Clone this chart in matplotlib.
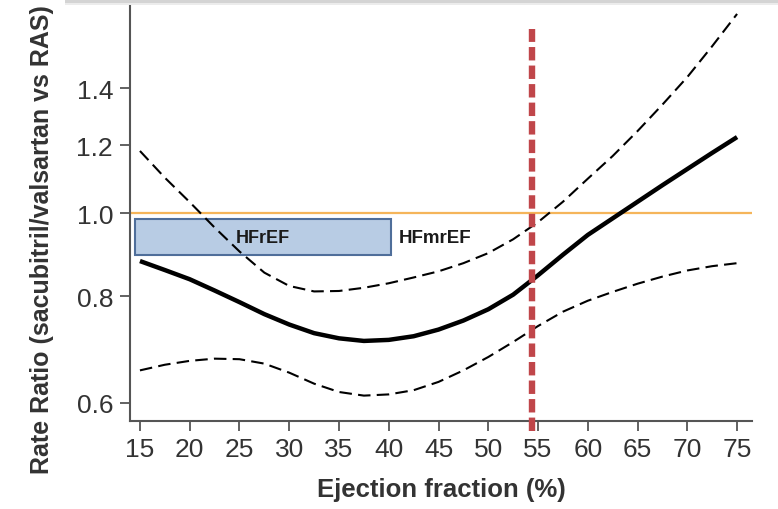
import matplotlib.pyplot as plt
from matplotlib.patches import Rectangle
import numpy as np

plt.rcParams["font.family"] = ["Liberation Sans", "DejaVu Sans"]

# ejection fraction (%) and rate ratio curves
ef = [15, 17.5, 20, 22.5, 25, 27.5, 30, 32.5, 35, 37.5, 40, 42.5, 45, 47.5,
      50, 52.5, 55, 57.5, 60, 62.5, 65, 67.5, 70, 72.5, 75]
rr_mid = [0.879, 0.858, 0.837, 0.812, 0.787, 0.762, 0.741, 0.724, 0.714, 0.709,
          0.711, 0.718, 0.731, 0.749, 0.772, 0.803, 0.846, 0.894, 0.943, 0.986,
          1.031, 1.078, 1.126, 1.176, 1.227]
rr_upper = [1.182, 1.100, 1.030, 0.962, 0.902, 0.852, 0.822, 0.810, 0.811, 0.818,
            0.828, 0.841, 0.855, 0.874, 0.898, 0.932, 0.976, 1.031, 1.097, 1.166,
            1.247, 1.339, 1.442, 1.567, 1.709]
rr_lower = [0.655, 0.665, 0.672, 0.676, 0.675, 0.667, 0.651, 0.632, 0.618, 0.612,
            0.614, 0.621, 0.635, 0.655, 0.679, 0.707, 0.738, 0.767, 0.790, 0.809,
            0.827, 0.843, 0.857, 0.867, 0.874]

xticks = [15, 20, 25, 30, 35, 40, 45, 50, 55, 60, 65, 70, 75]
yticks = [0.6, 0.8, 1.0, 1.2, 1.4]
cutoff = 54.4
hfref_span = (14.5, 40.2)
hfref_rr = (0.893, 0.984)

fig = plt.figure(figsize=(7.78, 5.10), dpi=100)
ax = fig.add_axes([130 / 778, 1 - 422 / 510, 622 / 778, 418 / 510])

ax.set_yscale("log")
ax.set_xlim(14.0, 76.5)
ax.set_ylim(0.5716, 1.76)

ax.axhline(1.0, color="#F5B55A", lw=1.6, zorder=2)

box = Rectangle((hfref_span[0], hfref_rr[0]), hfref_span[1] - hfref_span[0],
                hfref_rr[1] - hfref_rr[0], facecolor="#B8CCE4",
                edgecolor="#4F6E9A", lw=1.5, zorder=3)
ax.add_patch(box)
mid_rr = np.sqrt(hfref_rr[0] * hfref_rr[1])
ax.text(sum(hfref_span) / 2, mid_rr, "HFrEF", ha="center", va="center",
        fontsize=13, fontweight="bold", color="#1a1a1a", zorder=4)
ax.text(41.0, mid_rr, "HFmrEF", ha="left", va="center", fontsize=13.5,
        fontweight="bold", color="#1a1a1a", zorder=4)

ax.plot(ef, rr_mid, color="black", lw=3.2, zorder=5, solid_capstyle="butt")
for band in (rr_upper, rr_lower):
    (ln,) = ax.plot(ef, band, color="black", lw=1.5, zorder=5)
    ln.set_dashes((6, 3))

(red,) = ax.plot([cutoff, cutoff], [0.556, 1.64], color="#C0464A", lw=4.6,
                 zorder=6, clip_on=False)
red.set_dashes((2.1, 0.8))

for side in ("top", "right"):
    ax.spines[side].set_visible(False)
for side in ("left", "bottom"):
    ax.spines[side].set_color("#555555")
    ax.spines[side].set_linewidth(1.5)

ax.set_xticks(xticks)
ax.set_xticklabels([str(t) for t in xticks])
ax.set_yticks(yticks)
ax.set_yticklabels([f"{t:.1f}" for t in yticks])
ax.minorticks_off()
ax.tick_params(direction="out", length=7.2, width=1.3, color="#555555",
               labelsize=19, labelcolor="#333333")
ax.tick_params(axis="x", pad=4)
ax.tick_params(axis="y", pad=5)

ax.set_xlabel("Ejection fraction (%)", fontsize=18.5, fontweight="bold",
              color="#333333")
ax.xaxis.set_label_coords(0.5, -(478 - 422) / 418)
ax.set_ylabel("Rate Ratio (sacubitril/valsartan vs RAS)", fontsize=18,
              fontweight="bold", color="#333333")
ax.yaxis.set_label_coords(-(130 - 54) / 622, (422 - 240) / 418)

# grey shadow strip along the top edge
fig.patches.append(Rectangle((65 / 778, 1 - 4 / 510), 1, 4 / 510,
                             transform=fig.transFigure, facecolor="#d4d4d4",
                             edgecolor="none"))
fig.patches.append(Rectangle((65 / 778, 1 - 6 / 510), 1, 2 / 510,
                             transform=fig.transFigure, facecolor="#ececec",
                             edgecolor="none"))

fig.savefig("out.png", dpi=100)
